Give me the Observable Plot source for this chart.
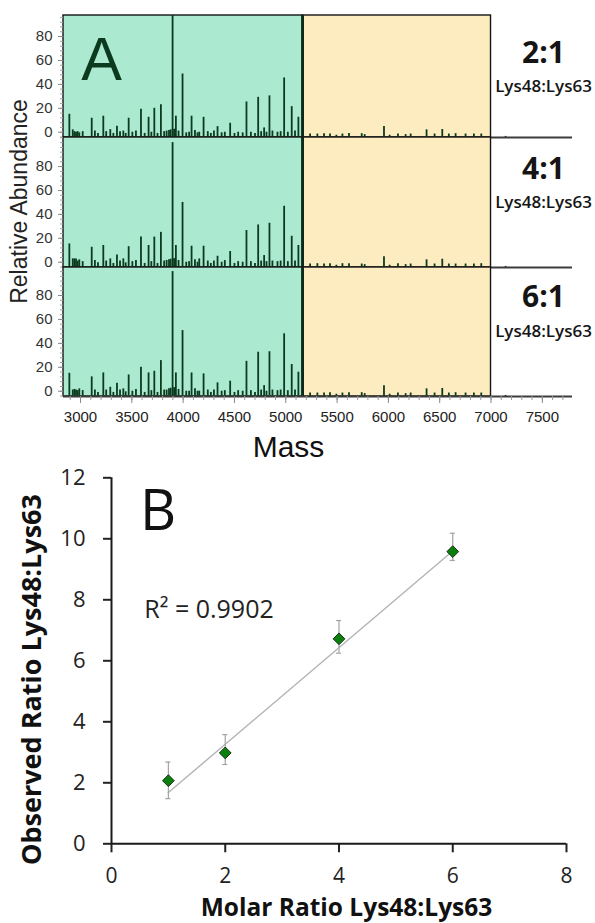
<!DOCTYPE html>
<html><head><meta charset="utf-8">
<script src="https://cdn.jsdelivr.net/npm/d3@7"></script>
<script src="https://cdn.jsdelivr.net/npm/@observablehq/plot@0.6"></script>
<style>
html,body{margin:0;padding:0;background:#fff;}
#root{position:relative;width:595px;height:923px;overflow:hidden;background:#fff;}
#root svg{position:absolute;left:0;overflow:visible;}
</style></head><body><div id="root"></div>
<script>
// ---------- Panel A data ----------
const ratioLabels = ["2:1", "4:1", "6:1"];
const ratioSub = "Lys48:Lys63";
const majorMass = [2891, 3109, 3222, 3290, 3355, 3417, 3469, 3589, 3663, 3719, 3783, 3897, 3929, 3994, 4082, 4199, 4335, 4458, 4617, 4731, 4789, 4841, 4984, 5058, 5123];
const major21 = [15, 11.7, 13.4, 2.2, 5, 1, 11.7, 19.2, 12.5, 20, 23, 100, 13.4, 48.7, 13.4, 12.5, 4.7, 7.5, 25.3, 29.2, 3.6, 30.4, 45.4, 21.4, 12.5];
const major41 = [15.3, 12.5, 14, 2.8, 6, 2.8, 13, 21, 14, 21, 25, 100, 14, 50, 13.4, 13.4, 5, 9, 26.5, 31.2, 5.6, 32.6, 46.8, 21.7, 14];
const major61 = [15, 12, 15.3, 3.3, 6.7, 2, 13.6, 20, 15.3, 16.7, 25.6, 100, 15.3, 50.7, 15.3, 14.5, 7, 8.4, 25, 32.6, 4.7, 33, 48, 22.3, 15.9];
const minorMass = [2924, 2940, 2956, 2972, 2988, 3021, 3140, 3170, 3250, 3320, 3385, 3440, 3505, 3540, 3625, 3690, 3750, 3815, 3839, 3862, 3878, 3912, 3955, 4030, 4058, 4115, 4140, 4157, 4240, 4270, 4300, 4375, 4406, 4500, 4536, 4580, 4660, 4700, 4760, 4812, 4870, 4919, 4950, 5020, 5090];
const minor21 = [2, 0.5, 0, 0.5, -0.5, 0.5, 1, -1, 0.5, -1, 0.5, -1, 0, 1, -1, 0, -1, 0.5, 1, 1.5, 2, 2.5, 1, -0.5, 0, 1.5, -0.5, 0, 0.5, -1, 1, -0.5, 0, -1, 0, -0.5, 0, -1, 0.5, 0, 1, 0, 0.5, 0, 1];
const minor41 = [2.8, 2.8, 2.8, 1, 2, 0.5, 1.5, -0.5, 1, -1, 1, -0.5, 0.5, 1.5, -1, 0.5, -1, 1, 1.5, 2, 2.5, 3, 1.5, 0, 0.5, 2, 0, 2.8, 1, -1, 1, 0, 1.4, -1, 0.5, 0, 0.5, -1, 1, 0.5, 1, 0.5, 1, 0.5, 1];
const minor61 = [1, 1.5, 1, 0.5, 2, 0.5, 1, -1, 1, -1, 1, -0.5, 0, 1.5, -1, 0.5, -1, 1, 1, 2, 2.5, 3, 1.5, 0, 0, 2, 0, 0, 1, -1, 1, 0, 0.5, -1, 0.5, 0, 0.5, -1, 1, 0, 1, 0.5, 1, 0.5, 1];
const highMass = [5237, 5308, 5373, 5431, 5493, 5552, 5616, 5740, 5769, 5957, 6012, 6093, 6168, 6217, 6372, 6450, 6525, 6589, 6655, 6752, 6833, 6905, 7142];
const high21 = [-1.5, -1.5, -1.2, -1.5, -2.5, -1.5, -1, -1.2, -2, 4.8, -2.5, -1.5, -2, -1.5, 2, -1.5, 2.3, -1.5, -1.2, -1.5, -1.5, -1.5, -3.5];
const high41 = [-1.5, -1.2, -1.5, -1.2, -2.5, -1.2, -1.2, -1.5, -2, 4.5, -2.5, -1.2, -2, -1.5, 2, -1.5, 2.5, -1.5, -1.5, -1.5, -1.5, -1.2, -3.5];
const high61 = [-1.5, -1.5, -1.5, -1.2, -2.5, -1.5, -1.2, -1.2, -2, 4.6, -2.5, -1.5, -2, -1.5, 2, -1.5, 2.3, -1.5, -1.2, -1.5, -1.5, -1.5, -3.5];
const regionStart = [2834, 5165];
const regionEnd = [5165, 7000];
const regionFill = ["#abead1", "#feecc1"];
const massTicks = [3000, 3500, 4000, 4500, 5000, 5500, 6000, 6500, 7000, 7500];
const abundTicks = [0, 20, 40, 60, 80];

// ---------- Panel B data ----------
const molar = [1, 2, 4, 6];
const observed = [2.07, 2.98, 6.72, 9.58];
const errHi = [2.68, 3.58, 7.32, 10.18];
const errLo = [1.48, 2.6, 6.25, 9.29];
const trendX = [1, 6];
const trendY = [1.68, 9.6];
const molarTicks = [0, 2, 4, 6, 8];
const obsTicks = [0, 2, 4, 6, 8, 10, 12];

const root = document.getElementById("root");
const allMass = [...majorMass, ...minorMass, ...highMass];
const panelAbund = [
  [...major21, ...minor21, ...high21],
  [...major41, ...minor41, ...high41],
  [...major61, ...minor61, ...high61]
];
const regions = regionStart.map((s, i) => ({x1: s, x2: regionEnd[i], fill: regionFill[i]}));
const xDomain = [2834, 7794];

const cfgs = [
  {top: 0, height: 138, mt: 15, mb: 1, yDomain: [-4.4, 97.6], ratioDy: 37.5, subDy: 71},
  {top: 136, height: 132, mt: 1, mb: 1, yDomain: [-4.4, 104.3], ratioDy: 32, subDy: 65.5},
  {top: 266, height: 200, mt: 1, mb: 70, yDomain: [-4.4, 103.4], ratioDy: 29.7, subDy: 64}
];

cfgs.forEach((cfg, p) => {
  const [ymin, ymax] = cfg.yDomain;
  const peaks = allMass.map((m, i) => ({mass: m, ab: panelAbund[p][i]}));
  const marks = [
    Plot.rect(regions, {x1: "x1", x2: "x2", y1: () => ymin, y2: () => ymax, fill: "fill", stroke: "#151515", strokeWidth: 1.4}),
    Plot.ruleX(peaks, {x: "mass", y1: () => ymin, y2: "ab", stroke: "#0b3a1e", strokeWidth: 1.8, clip: true}),
    Plot.ruleX([regionEnd[0]], {y1: () => ymin, y2: () => ymax, stroke: "#0c2a16", strokeWidth: 2.6}),
    Plot.ruleY([ymin], {stroke: "#3c3c3c", strokeWidth: 2}),
    Plot.axisY({ticks: d3.range(-4, ymax, 4), tickSize: 3, tickFormat: () => "", stroke: "#a0a0a0", label: null}),
    Plot.axisY({ticks: abundTicks, tickSize: 5, tickPadding: 6, fontSize: 15, fill: "#333", stroke: "#888", label: null}),
    Plot.text([ratioLabels[p]], {text: d => d, frameAnchor: "top-right", dx: -29, dy: cfg.ratioDy, fontSize: 30, fontWeight: 700, fontFamily: "Open Sans", fill: "#151515", textAnchor: "middle", lineAnchor: "middle"}),
    Plot.text([ratioSub], {text: d => d, frameAnchor: "top-right", dx: -29, dy: cfg.subDy, fontSize: 17, fontWeight: 600, fontFamily: "Open Sans", fill: "#151515", textAnchor: "middle", lineAnchor: "middle"})
  ];
  if (p === 0) {
    marks.push(Plot.text(["A"], {text: d => d, frameAnchor: "top-left", dx: 38, dy: 45, fontSize: 61, fill: "#0c3a1e", textAnchor: "middle", lineAnchor: "middle"}));
  }
  if (p === 1) {
    marks.push(Plot.text(["Relative Abundance"], {text: d => d, frameAnchor: "left", dx: -44, dy: -1, rotate: -90, fontSize: 23, fill: "#222", textAnchor: "middle", lineAnchor: "middle"}));
  }
  if (p === 2) {
    marks.push(Plot.axisX({ticks: d3.range(2900, 7800, 100), tickSize: 4, tickFormat: () => "", stroke: "#9a9a9a", label: null}));
    marks.push(Plot.axisX({ticks: massTicks, tickSize: 7, tickPadding: 8, tickFormat: "d", fontSize: 15, fill: "#222", stroke: "#888", label: null}));
    marks.push(Plot.text(["Mass"], {text: d => d, frameAnchor: "bottom", dx: -29.5, dy: 51, fontSize: 30, fill: "#111", textAnchor: "middle", lineAnchor: "middle"}));
  }
  const svg = Plot.plot({
    width: 595, height: cfg.height,
    marginLeft: 63, marginRight: 23, marginTop: cfg.mt, marginBottom: cfg.mb,
    style: {fontFamily: "'Liberation Sans', Arial, sans-serif", background: "transparent", overflow: "visible"},
    x: {domain: xDomain, axis: null, label: null},
    y: {domain: cfg.yDomain, axis: null, label: null},
    color: {type: "identity"},
    marks
  });
  svg.style.top = cfg.top + "px";
  root.appendChild(svg);
});

// ---------- Panel B ----------
const pts = molar.map((x, i) => ({x, y: observed[i], hi: errHi[i], lo: errLo[i]}));
const trend = trendX.map((x, i) => ({x, y: trendY[i]}));
const cap = 0.045;
const svgB = Plot.plot({
  width: 595, height: 463,
  marginLeft: 111, marginRight: 29, marginTop: 17.3, marginBottom: 79.7,
  style: {fontFamily: "'Open Sans', sans-serif", background: "transparent", overflow: "visible"},
  x: {domain: [0, 8], axis: null, label: null},
  y: {domain: [0, 12], axis: null, label: null},
  marks: [
    Plot.axisX({ticks: molarTicks, tickSize: 9, tickPadding: 15, fontSize: 21, fill: "#222", stroke: "#222", strokeWidth: 2, label: null}),
    Plot.axisY({ticks: obsTicks, tickSize: 8, tickPadding: 18, fontSize: 22, fill: "#222", stroke: "#222", strokeWidth: 2, label: null}),
    Plot.ruleX([0], {stroke: "#1a1a1a", strokeWidth: 2}),
    Plot.ruleY([0], {stroke: "#1a1a1a", strokeWidth: 2}),
    Plot.line(trend, {x: "x", y: "y", stroke: "#b3b3b3", strokeWidth: 1.4}),
    Plot.ruleX(pts, {x: "x", y1: "lo", y2: "hi", stroke: "#a3a3a3", strokeWidth: 1.2}),
    Plot.ruleY(pts, {y: "hi", x1: d => d.x - cap, x2: d => d.x + cap, stroke: "#a3a3a3", strokeWidth: 1.2}),
    Plot.ruleY(pts, {y: "lo", x1: d => d.x - cap, x2: d => d.x + cap, stroke: "#a3a3a3", strokeWidth: 1.2}),
    Plot.dot(pts, {x: "x", y: "y", symbol: "diamond2", r: 5.3, fill: "#0b7f0b", stroke: "#1c301c", strokeWidth: 1}),
    Plot.text(["B"], {text: d => d, frameAnchor: "top-left", dx: 46.5, dy: 34.7, fontSize: 56, fill: "#111", textAnchor: "middle", lineAnchor: "middle"}),
    Plot.text(["R² = 0.9902"], {text: d => d, frameAnchor: "top-left", dx: 97.5, dy: 131.7, fontSize: 25, fill: "#222", textAnchor: "middle", lineAnchor: "middle"}),
    Plot.text(["Observed Ratio Lys48:Lys63"], {text: d => d, frameAnchor: "left", dx: -79, dy: 18.7, rotate: -90, fontSize: 27, fontWeight: 700, fill: "#111", textAnchor: "middle", lineAnchor: "middle"}),
    Plot.text(["Molar Ratio Lys48:Lys63"], {text: d => d, frameAnchor: "bottom", dx: 7.5, dy: 64.7, fontSize: 24.5, fontWeight: 700, fill: "#111", textAnchor: "middle", lineAnchor: "middle"})
  ]
});
svgB.style.top = "460px";
root.appendChild(svgB);
</script></body></html>
